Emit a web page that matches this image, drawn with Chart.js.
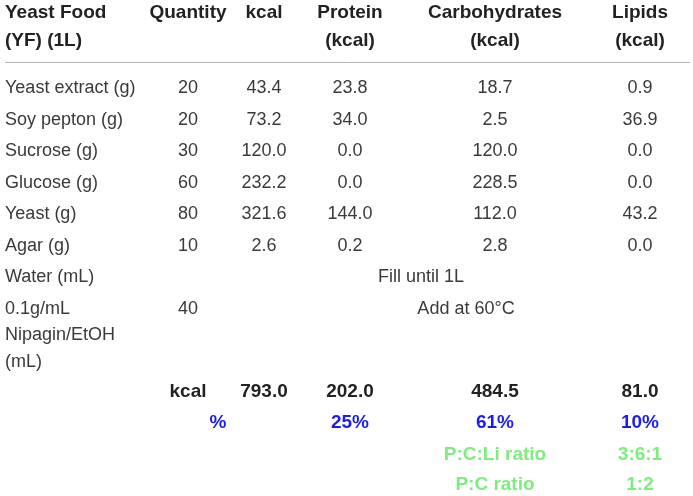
<!DOCTYPE html>
<html>
<head>
<meta charset="utf-8">
<script src="https://cdn.jsdelivr.net/npm/chart.js@4/dist/chart.umd.min.js"></script>
<style>
html,body{margin:0;padding:0;background:#fff;}
#wrap{position:relative;width:693px;height:496px;}
</style>
</head>
<body>
<div id="wrap"><canvas id="c"></canvas></div>
<script>
// ---- data ----
const headerLine1 = ['Yeast Food', 'Quantity', 'kcal', 'Protein', 'Carbohydrates', 'Lipids'];
const headerLine2 = ['(YF) (1L)', '', '', '(kcal)', '(kcal)', '(kcal)'];
const ingredients = ['Yeast extract (g)', 'Soy pepton (g)', 'Sucrose (g)', 'Glucose (g)', 'Yeast (g)', 'Agar (g)'];
const quantity = [20, 20, 30, 60, 80, 10];
const kcal = [43.4, 73.2, 120.0, 232.2, 321.6, 2.6];
const protein = [23.8, 34.0, 0.0, 0.0, 144.0, 0.2];
const carbohydrates = [18.7, 2.5, 120.0, 228.5, 112.0, 2.8];
const lipids = [0.9, 36.9, 0.0, 0.0, 43.2, 0.0];
const waterLabel = 'Water (mL)';
const waterNote = 'Fill until 1L';
const nipaginLabel = ['0.1g/mL', 'Nipagin/EtOH', '(mL)'];
const nipaginQuantity = 40;
const nipaginNote = 'Add at 60°C';
const totalLabel = 'kcal';
const totals = [793.0, 202.0, 484.5, 81.0];
const percentLabel = '%';
const percents = ['25%', '61%', '10%'];
const ratioLabels = ['P:C:Li ratio', 'P:C ratio'];
const ratioValues = ['3:6:1', '1:2'];

// ---- layout (pixel-unit scale positions) ----
const COL = {label: 5, qty: 188, kcal: 264, prot: 350, carb: 495, lip: 640, pct: 218, fill: 421, add: 466};
const ROW0 = 93, ROWH = 31.5;
const rowY = i => ROW0 + i * ROWH;

const C_TEXT = '#3a3a3a', C_HEAD = '#222222', C_BLUE = '#1c1cf0', C_GREEN = '#7eed7e';
const F_NORM = '18px "Liberation Sans", Arial, sans-serif';
const F_BOLD = 'bold 19px "Liberation Sans", Arial, sans-serif';

const cells = [];
function cell(x, y, text, align, font, color) { cells.push({x, y, text, align, font, color}); }

// header
const headCols = [COL.label, COL.qty, COL.kcal, COL.prot, COL.carb, COL.lip];
headerLine1.forEach((t, i) => cell(headCols[i], 18, t, i === 0 ? 'left' : 'center', F_BOLD, C_HEAD));
headerLine2.forEach((t, i) => { if (t) cell(headCols[i], 46, t, i === 0 ? 'left' : 'center', F_BOLD, C_HEAD); });
// body
ingredients.forEach((name, i) => {
  const y = rowY(i);
  cell(COL.label, y, name, 'left', F_NORM, C_TEXT);
  cell(COL.qty, y, String(quantity[i]), 'center', F_NORM, C_TEXT);
  cell(COL.kcal, y, kcal[i].toFixed(1), 'center', F_NORM, C_TEXT);
  cell(COL.prot, y, protein[i].toFixed(1), 'center', F_NORM, C_TEXT);
  cell(COL.carb, y, carbohydrates[i].toFixed(1), 'center', F_NORM, C_TEXT);
  cell(COL.lip, y, lipids[i].toFixed(1), 'center', F_NORM, C_TEXT);
});
const yWater = rowY(6);
cell(COL.label, yWater, waterLabel, 'left', F_NORM, C_TEXT);
cell(COL.fill, yWater, waterNote, 'center', F_NORM, C_TEXT);
const yNip = rowY(7);
nipaginLabel.forEach((t, k) => cell(COL.label, yNip + k * 26.5, t, 'left', F_NORM, C_TEXT));
cell(COL.qty, yNip, String(nipaginQuantity), 'center', F_NORM, C_TEXT);
cell(COL.add, yNip, nipaginNote, 'center', F_NORM, C_TEXT);
// totals
const yTot = 397;
cell(COL.qty, yTot, totalLabel, 'center', F_BOLD, C_HEAD);
[COL.kcal, COL.prot, COL.carb, COL.lip].forEach((x, i) => cell(x, yTot, totals[i].toFixed(1), 'center', F_BOLD, C_HEAD));
const yPct = 428;
cell(COL.pct, yPct, percentLabel, 'center', F_BOLD, C_BLUE);
[COL.prot, COL.carb, COL.lip].forEach((x, i) => cell(x, yPct, percents[i], 'center', F_BOLD, C_BLUE));
ratioLabels.forEach((t, i) => {
  const y = 460 + i * 30;
  cell(COL.carb, y, t, 'center', F_BOLD, C_GREEN);
  cell(COL.lip, y, ratioValues[i], 'center', F_BOLD, C_GREEN);
});

const tablePlugin = {
  id: 'tableText',
  afterDatasetsDraw(chart) {
    const ctx = chart.ctx;
    const xs = chart.scales.x, ys = chart.scales.y;
    ctx.save();
    // header rule
    ctx.strokeStyle = '#b4b4b4';
    ctx.lineWidth = 1;
    ctx.beginPath();
    const yl = Math.round(ys.getPixelForValue(61.5)) + 0.5;
    ctx.moveTo(xs.getPixelForValue(5), yl);
    ctx.lineTo(xs.getPixelForValue(690), yl);
    ctx.stroke();
    const meta = chart.getDatasetMeta(0);
    meta.data.forEach((el, i) => {
      const c = cells[i];
      ctx.font = c.font;
      ctx.fillStyle = c.color;
      ctx.textAlign = c.align;
      ctx.textBaseline = 'alphabetic';
      ctx.fillText(c.text, el.x, el.y);
    });
    ctx.restore();
  }
};

new Chart(document.getElementById('c'), {
  type: 'scatter',
  data: {
    datasets: [{
      data: cells.map(c => ({x: c.x, y: c.y})),
      pointRadius: 0,
      pointHoverRadius: 0,
      showLine: false
    }]
  },
  options: {
    responsive: true,
    maintainAspectRatio: false,
    animation: false,
    events: [],
    layout: {padding: 0},
    plugins: {legend: {display: false}, tooltip: {enabled: false}},
    scales: {
      x: {type: 'linear', min: 0, max: 693, display: false},
      y: {type: 'linear', min: 0, max: 496, reverse: true, display: false}
    }
  },
  plugins: [tablePlugin]
});
</script>
</body>
</html>
